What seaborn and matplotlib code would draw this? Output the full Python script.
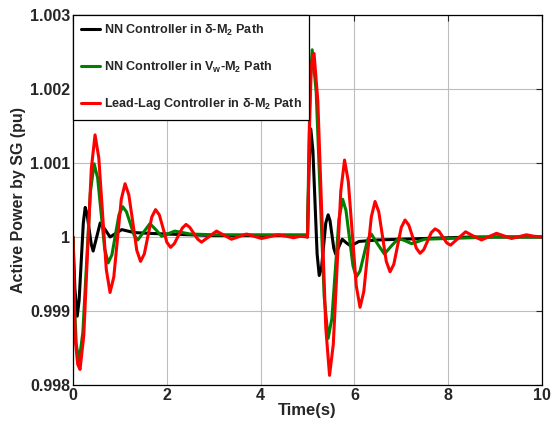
import matplotlib
matplotlib.use("Agg")
import matplotlib.pyplot as plt
import seaborn as sns
import pandas as pd

# ---- data ----
labels = ["NN Controller in δ-M$_2$ Path",
          "NN Controller in V$_w$-M$_2$ Path",
          "Lead-Lag Controller in δ-M$_2$ Path"]
colors = ["#000000", "#008000", "#ff0000"]

t_black = [0.0, 0.04, 0.09, 0.13, 0.175, 0.22, 0.26, 0.30, 0.345, 0.39, 0.43, 0.505, 0.58,
           0.685, 0.79, 0.915, 1.04, 1.3, 1.6, 2.0, 2.5, 3.0, 4.0, 4.99,
           5.0, 5.03, 5.07, 5.115, 5.16, 5.205, 5.25, 5.30, 5.345, 5.39, 5.44, 5.48, 5.52,
           5.56, 5.60, 5.67, 5.74, 5.83, 5.92, 6.1, 6.5, 7.0, 7.5, 8.0, 8.5, 10.0]
v_black = [1.0, 0.9993, 0.99893, 0.99914, 0.999665, 1.00019, 1.0004, 1.00031, 1.0001, 0.9999,
           0.99981, 1.0, 1.00019, 1.0001, 1.0, 1.00005, 1.0001, 1.00006, 1.00005, 1.00004,
           1.00003, 1.00002, 1.00002, 1.00002,
           1.0, 1.0009, 1.00146, 1.00117, 1.00047, 0.99977, 0.99948, 0.99959, 0.99989, 1.00019,
           1.0003, 1.00022, 1.000035, 0.99985, 0.99977, 0.99987, 0.99997, 0.99992, 0.99988,
           0.99994, 0.99996, 0.99997, 0.99998, 0.99999, 1.0, 1.0]

t_green = [0.0, 0.03, 0.07, 0.13, 0.21, 0.29, 0.37, 0.45, 0.525, 0.60, 0.675, 0.75, 0.83,
           0.905, 0.98, 1.06, 1.14, 1.22, 1.30, 1.38, 1.51, 1.64, 1.765, 1.89, 2.03, 2.17,
           2.5, 3.0, 4.0, 4.99,
           5.0, 5.03, 5.06, 5.10, 5.185, 5.27, 5.355, 5.44, 5.52, 5.595, 5.67, 5.75, 5.82,
           5.895, 5.97, 6.04, 6.12, 6.20, 6.28, 6.36, 6.50, 6.64, 6.79, 6.94, 7.08, 7.22,
           7.5, 8.0, 8.5, 9.0, 10.0]
v_green = [1.0, 0.9991, 0.99855, 0.99832, 0.99871, 0.999655, 1.0006, 1.00099, 1.0008, 1.00032,
           0.99984, 0.99965, 0.99976, 1.00003, 1.0003, 1.00041, 1.00034, 1.000185, 1.00003,
           0.99996, 1.00007, 1.00018, 1.0001, 1.00001, 1.000045, 1.00008,
           1.00004, 1.00003, 1.00003, 1.00003,
           1.0, 1.0012, 1.0021, 1.00253, 1.00196, 1.00058, 0.9992, 0.99863, 0.9989, 0.99957,
           1.00024, 1.00051, 1.00036, 0.999985, 0.99961, 0.99946, 0.99954, 0.99975, 0.99996,
           1.00004, 0.9999, 0.99977, 0.99988, 0.99998, 0.99995, 0.99991,
           0.99997, 0.99998, 0.99999, 1.0, 1.0]

t_red = [0.0, 0.02, 0.05, 0.10, 0.15, 0.23, 0.31, 0.39, 0.47, 0.55, 0.63, 0.71, 0.79, 0.87,
         0.95, 1.03, 1.11, 1.19, 1.275, 1.36, 1.44, 1.52, 1.60, 1.68, 1.76, 1.84, 1.92, 2.00,
         2.08, 2.16, 2.245, 2.33, 2.41, 2.49, 2.575, 2.66, 2.74, 2.90, 3.06, 3.22, 3.38, 3.54,
         3.70, 3.86, 4.02, 4.20, 4.37, 4.55, 4.70, 4.85, 4.99,
         5.0, 5.02, 5.05, 5.08, 5.11, 5.14, 5.22, 5.305, 5.39, 5.47, 5.55, 5.63, 5.71, 5.79,
         5.87, 5.955, 6.04, 6.12, 6.20, 6.28, 6.36, 6.44, 6.52, 6.60, 6.68, 6.76, 6.84, 6.92,
         7.00, 7.08, 7.16, 7.24, 7.32, 7.40, 7.48, 7.56, 7.64, 7.72, 7.80, 7.885, 7.97, 8.05,
         8.21, 8.37, 8.53, 8.71, 8.87, 9.03, 9.19, 9.35, 9.51, 9.67, 9.83, 10.0]
v_red = [1.0, 0.9993, 0.9986, 0.99828, 0.99821, 0.99867, 0.9998, 1.00092, 1.00138, 1.00107,
         1.00032, 0.99956, 0.99925, 0.99946, 0.99999, 1.00051, 1.00072, 1.00057, 1.0002,
         0.99982, 0.99967, 0.99977, 1.00002, 1.00027, 1.00037, 1.0003, 1.00012, 0.99993,
         0.99986, 0.99991, 1.000015, 1.00012, 1.00017, 1.00013, 1.00005, 0.99997, 0.99993,
         1.000005, 1.00008, 1.000025, 0.99997, 1.000005, 1.00004, 1.00001, 0.99998, 1.000005,
         1.00003, 1.00001, 0.99999, 1.00001, 1.0,
         1.0, 1.0006, 1.0017, 1.00228, 1.00246, 1.00248, 1.00184, 1.000305, 0.99877, 0.99813,
         0.99855, 0.999585, 1.00062, 1.00104, 1.00075, 1.000045, 0.99934, 0.99905, 0.99926,
         0.999765, 1.00027, 1.00048, 1.00034, 1.000005, 0.99967, 0.99953, 0.99963, 0.99988,
         1.00013, 1.00023, 1.00016, 1.000005, 0.99985, 0.99978, 0.99983, 0.999945, 1.00006,
         1.00011, 1.00008, 1.0, 0.99992, 0.99989, 0.99998, 1.00007, 1.000015, 0.99996,
         1.000005, 1.00005, 1.000015, 0.99998, 1.000005, 1.00003, 1.00001, 1.0]

x_ticks = [0, 2, 4, 6, 8, 10]
y_ticks = [0.998, 0.999, 1.0, 1.001, 1.002, 1.003]
y_ticklabels = ["0.998", "0.999", "1", "1.001", "1.002", "1.003"]

# ---- build long-form table ----
frames = []
for lab, t, v in zip(labels, [t_black, t_green, t_red], [v_black, v_green, v_red]):
    frames.append(pd.DataFrame({"t": t, "v": v, "series": lab}))
df = pd.concat(frames, ignore_index=True)

sns.set_style("white")
plt.rcParams["font.family"] = ["Liberation Sans", "DejaVu Sans"]
plt.rcParams["mathtext.fontset"] = "custom"
plt.rcParams["mathtext.rm"] = "Liberation Sans:bold"
plt.rcParams["mathtext.it"] = "Liberation Sans:bold"
plt.rcParams["mathtext.bf"] = "Liberation Sans:bold"
plt.rcParams["mathtext.default"] = "bf"

fig = plt.figure(figsize=(5.52, 4.32), dpi=100)
ax = fig.add_axes([73 / 552, 1 - 385 / 432, (542 - 73) / 552, (385 - 15) / 432])

sns.lineplot(data=df, x="t", y="v", hue="series", hue_order=labels,
             palette=dict(zip(labels, colors)), sort=False, estimator=None,
             linewidth=2.2, solid_joinstyle="round", ax=ax)

ax.set_xlim(0, 10)
ax.set_ylim(0.998, 1.003)
ax.set_xticks(x_ticks)
ax.set_xticklabels([str(x) for x in x_ticks], fontsize=11.5, fontweight="bold")
ax.set_yticks(y_ticks)
ax.set_yticklabels(y_ticklabels, fontsize=11.5, fontweight="bold")
ax.grid(True, color="#bdbdbd", linewidth=0.8)
ax.tick_params(direction="in", length=4, width=0.8, top=True, right=True, pad=2)
for s in ax.spines.values():
    s.set_color("black")
    s.set_linewidth(0.9)
ax.set_xlabel("Time(s)", fontsize=12, fontweight="bold", labelpad=0)
ax.set_ylabel("Active Power by SG (pu)", fontsize=11.5, fontweight="bold", labelpad=3)

leg = ax.legend(loc="upper left", borderaxespad=0, frameon=True, fancybox=False,
                edgecolor="black", framealpha=1, handlelength=1.5, handletextpad=0.3,
                labelspacing=1.7, borderpad=0.62, prop={"weight": "bold", "size": 9.1})
leg.get_frame().set_linewidth(0.9)
for line in leg.get_lines():
    line.set_linewidth(2.2)

fig.savefig("out.png", dpi=100)
